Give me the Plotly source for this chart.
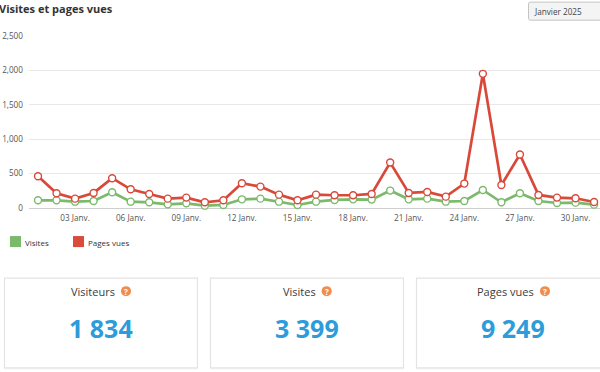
import plotly.graph_objects as go

days = list(range(1, 32))
visites = [112, 112, 92, 102, 228, 92, 83, 53, 68, 34, 44, 126, 136, 92, 44, 92,
           117, 126, 122, 253, 126, 136, 92, 102, 262, 83, 214, 102, 73, 78, 49]
pages_vues = [462, 214, 136, 219, 433, 272, 204, 136, 151, 83, 112, 360, 311, 194, 112, 194,
              185, 185, 204, 661, 219, 233, 165, 355, 1950, 335, 778, 190, 151, 141, 87]
tick_days = [3, 6, 9, 12, 15, 18, 21, 24, 27, 30]
tick_labels = [f"{d:02d} Janv." for d in tick_days]
y_ticks = [0, 500, 1000, 1500, 2000, 2500]

card_titles = ["Visiteurs", "Visites", "Pages vues"]
card_values = ["1 834", "3 399", "9 249"]

W, H = 600, 372
L, T, B = 29, 36.3, 164
PW, PH = W - L, H - T - B
FONT = "Open Sans"
GREEN, RED = "#7bb96b", "#d9493a"


def px(x):
    return (x - L) / PW


def py(y):
    return (H - B - y) / PH


fig = go.Figure()
for name, vals, col in [("Visites", visites, GREEN), ("Pages vues", pages_vues, RED)]:
    fig.add_trace(go.Scatter(
        x=days, y=vals, name=name, mode="lines+markers", cliponaxis=False,
        line=dict(color=col, width=2.7),
        marker=dict(size=7, color="white", line=dict(color=col, width=1.4)),
    ))

shapes, annos = [], []


def text(x, y, s, size, color, anchor="center", bold=False):
    annos.append(dict(xref="paper", yref="paper", x=px(x), y=py(y), text=f"<b>{s}</b>" if bold else s,
                      showarrow=False, xanchor=anchor, yanchor="middle",
                      font=dict(family=FONT, size=size, color=color)))


def rect(x0, y0, x1, y1, fill, line=None, lw=1):
    shapes.append(dict(type="rect", xref="paper", yref="paper", x0=px(x0), x1=px(x1), y0=py(y0), y1=py(y1),
                       fillcolor=fill, line=dict(color=line or fill, width=lw if line else 0), layer="below"))


def rounded(x0, y0, x1, y1, r, fill, line):
    a, b, c, d = px(x0), px(x1), py(y0), py(y1)
    rx, ry = r / PW, r / PH
    path = (f"M {a + rx} {c} L {b - rx} {c} Q {b} {c} {b} {c - ry} L {b} {d + ry} Q {b} {d} {b - rx} {d} "
            f"L {a + rx} {d} Q {a} {d} {a} {d + ry} L {a} {c - ry} Q {a} {c} {a + rx} {c} Z")
    shapes.append(dict(type="path", xref="paper", yref="paper", path=path, fillcolor=fill,
                       line=dict(color=line, width=1), layer="below"))


text(-3, 9, "Visites et pages vues", 11, "#333333", "left", True)

# month selector
rounded(528.5, 2.5, 604, 20.5, 2, "#f4f4f4", "#c4c4c4")
text(532, 11.5, "Janvier 2025", 8.2, "#444444", "left")

# legend
rect(10, 236, 21, 247, GREEN)
text(22.5, 242, "Visites", 8, "#333333", "left")
rect(73, 236, 84, 247, "#db4b3c")
text(86, 242, "Pages vues", 8, "#333333", "left")

# stat cards
cards = [(4.5, 197.5, 93, 126, 101), (210.5, 403.5, 299, 326.7, 307), (416.5, 603, 505, 545, 513)]
for (x0, x1, tx, ix, vx), title, value in zip(cards, card_titles, card_values):
    rect(x0, 367.5, x1, 369, "#f1f3f3")
    rect(x0, 278, x1, 367.5, "white", "#e3e3e3", 1.2)
    text(tx, 291, title, 11, "#3c3c3c")
    shapes.append(dict(type="circle", xref="paper", yref="paper", x0=px(ix - 5), x1=px(ix + 5),
                       y0=py(296), y1=py(286), fillcolor="#f08c4f", line=dict(width=0)))
    text(ix, 291, "?", 8, "white", bold=True)
    text(vx, 327.5, value, 25, "#2d9cdb", bold=True)

fig.update_layout(
    width=W, height=H, autosize=False, showlegend=False,
    margin=dict(l=L, r=0, t=T, b=B, pad=0),
    paper_bgcolor="white", plot_bgcolor="white",
    font=dict(family=FONT, size=8.2, color="#555555"),
    shapes=shapes, annotations=annos,
    xaxis=dict(range=[0.514, 31.32], tickvals=tick_days, ticktext=tick_labels, showgrid=False,
               zeroline=False, showline=False, ticks="", tickfont=dict(size=8.2, color="#555555"), ticklabelstandoff=4),
    yaxis=dict(range=[0, 2500], tickvals=y_ticks, tickformat=",d", gridcolor="#e8e8e8", gridwidth=1.2,
               zeroline=True, zerolinecolor="#cfcfcf", zerolinewidth=1.2, showline=False, ticks="",
               tickfont=dict(size=8.2, color="#555555"), ticklabelstandoff=5),
)

fig.write_html("out.html", config=dict(displayModeBar=False), post_script="document.body.style.margin='0';")
